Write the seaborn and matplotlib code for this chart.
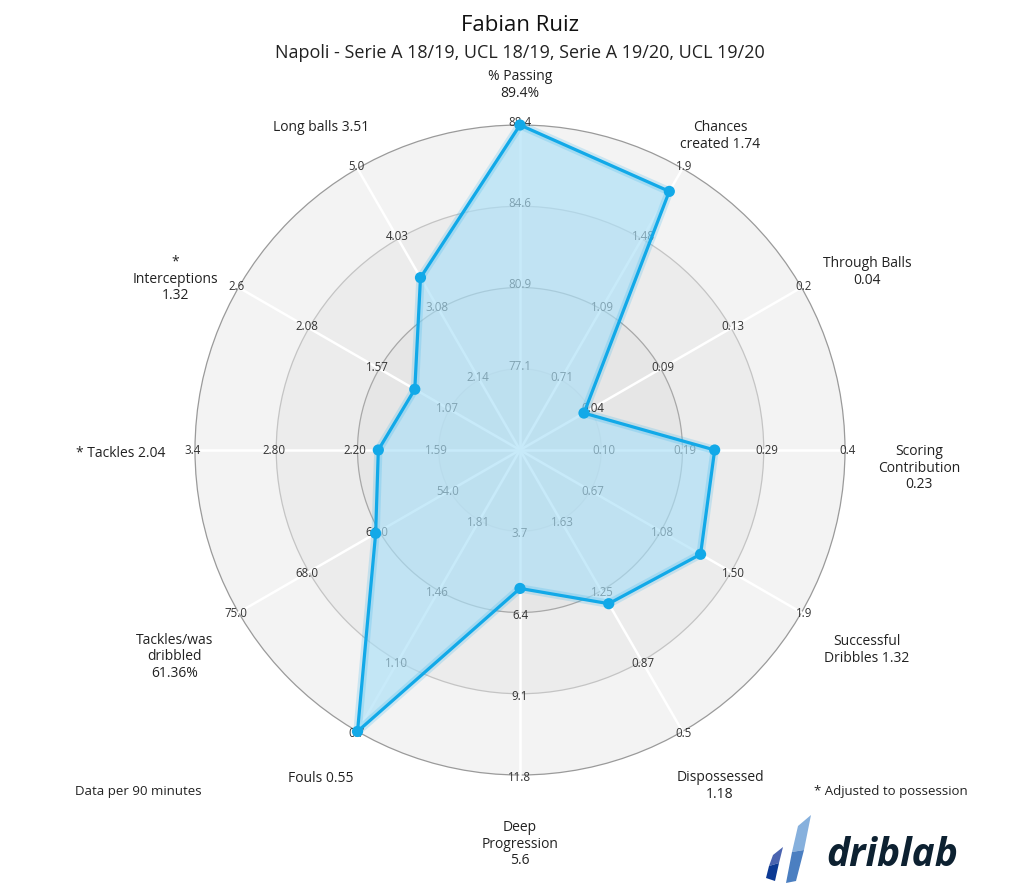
import numpy as np
import pandas as pd
import matplotlib
matplotlib.use("Agg")
import matplotlib.pyplot as plt
from matplotlib.patches import Circle, Polygon
import seaborn as sns

# Datos del radar (sentido horario desde arriba)
labels = ["% Passing\n89.4%", "Chances\ncreated 1.74", "Through Balls\n0.04",
          "Scoring\nContribution\n0.23", "Successful\nDribbles 1.32", "Dispossessed\n1.18",
          "Deep\nProgression\n5.6", "Fouls 0.55", "Tackles/was\ndribbled\n61.36%",
          "* Tackles 2.04", "*\nInterceptions\n1.32", "Long balls 3.51"]
values = [89.4, 1.74, 0.04, 0.23, 1.32, 1.18, 5.6, 0.55, 61.36, 2.04, 1.32, 3.51]

# valor en el centro y en el anillo exterior de cada eje
scale_min = [73.3, 0.325, 0.0, 0.0, 0.255, 2.01, 1.0, 2.165, 47.0, 0.985, 0.565, 1.195]
scale_max = [88.4, 1.865, 0.176, 0.384, 1.915, 0.49, 11.8, 0.745, 75.0, 3.405, 2.585, 4.975]

tick_labels = [
    ["77.1", "80.9", "84.6", "88.4"],
    ["0.71", "1.09", "1.48", "1.9"],
    ["0.04", "0.09", "0.13", "0.2"],
    ["0.10", "0.19", "0.29", "0.4"],
    ["0.67", "1.08", "1.50", "1.9"],
    ["1.63", "1.25", "0.87", "0.5"],
    ["3.7", "6.4", "9.1", "11.8"],
    ["1.81", "1.46", "1.10", "0.7"],
    ["54.0", "61.0", "68.0", "75.0"],
    ["1.59", "2.20", "2.80", "3.4"],
    ["1.07", "1.57", "2.08", "2.6"],
    ["2.14", "3.08", "4.03", "5.0"],
]

title = "Fabian Ruiz"
subtitle = "Napoli - Serie A 18/19, UCL 18/19, Serie A 19/20, UCL 19/20"

# posiciones de las etiquetas (pixeles de la imagen)
label_px = [(520, 85), (720, 136), (867, 272), (919, 468), (867, 650), (720, 786),
            (520, 844), (321, 779), (175, 657), (121, 453), (175, 279), (321, 127)]

LINE = "#12a9e8"
W, H = 1024, 888
CX, CY, R = 520, 450, 325


def px(x, y):
    return (x - CX) / R, (CY - y) / R


sns.set_theme(style="white")
plt.rcParams["font.family"] = ["Open Sans", "DejaVu Sans"]

fig = plt.figure(figsize=(W / 100, H / 100), dpi=100)
ax = fig.add_axes([0, 0, 1, 1])
ax.set_xlim(-CX / R, (W - CX) / R)
ax.set_ylim(-(H - CY) / R, CY / R)
ax.axis("off")

# fondo en bandas
band_colors = ["#f3f3f3", "#ececec", "#e6e6e6", "#e3e3e3"]
for k, col in enumerate(band_colors):
    ax.add_patch(Circle((0, 0), 1 - k * 0.25, facecolor=col, edgecolor="none", zorder=0))
ring_colors = ["#d6d6d6", "#a8a8a8", "#c4c4c4", "#9a9a9a"]
for k, col in enumerate(ring_colors):
    ax.add_patch(Circle((0, 0), (k + 1) * 0.25, facecolor="none", edgecolor=col,
                        lw=0.9, zorder=1))

n = len(values)
ang = np.arange(n) * 2 * np.pi / n
dx, dy = np.sin(ang), np.cos(ang)

# radios y etiquetas de escala
for i in range(n):
    ax.plot([0, dx[i]], [0, dy[i]], color="white", lw=1.8, zorder=2)
    for k, t in enumerate(tick_labels[i]):
        r = (k + 1) * 0.25 + 0.008
        ax.text(r * dx[i], r * dy[i], t, ha="center", va="center",
                fontsize=8.3, color="#333333", zorder=3)

# poligono del jugador
frac = (np.array(values) - np.array(scale_min)) / (np.array(scale_max) - np.array(scale_min))
frac = np.clip(frac, 0, 1)
df = pd.DataFrame({"x": frac * dx, "y": frac * dy})
closed = pd.concat([df, df.iloc[:1]], ignore_index=True)

ax.fill(df["x"], df["y"], facecolor="#aadff7", alpha=0.65, edgecolor="none", zorder=4)
ax.plot(closed["x"], closed["y"], color=LINE, lw=6, alpha=0.18, zorder=5)
sns.lineplot(data=closed, x="x", y="y", sort=False, estimator=None, color=LINE,
             lw=2.3, ax=ax, zorder=6)
sns.scatterplot(data=df, x="x", y="y", color=LINE, s=65, edgecolor="none", ax=ax, zorder=7)
ax.set_xlabel("")
ax.set_ylabel("")

# etiquetas de cada eje
for lab, (lx, ly) in zip(labels, label_px):
    x, y = px(lx, ly)
    ax.text(x, y, lab, ha="center", va="center", multialignment="center",
            fontsize=10, color="#222222", linespacing=1.15)

# titulos
ax.text(*px(520, 25), title, ha="center", va="center", fontsize=16, color="#111111")
ax.text(*px(520, 53), subtitle, ha="center", va="center", fontsize=13, color="#222222")

ax.text(*px(138, 792), "Data per 90 minutes", ha="center", va="center",
        fontsize=9.5, color="#222222")
ax.text(*px(891, 791), "* Adjusted to possession", ha="center", va="center",
        fontsize=9.5, color="#222222")

# logo driblab
stripes = [
    ([(798, 826), (811, 815), (804, 850), (792, 852)], "#86b0dd"),
    ([(792, 852), (804, 850), (796, 881), (786, 883)], "#4b7fc1"),
    ([(773, 855), (783, 847), (779, 863), (769, 866)], "#4a64b0"),
    ([(769, 866), (779, 863), (775, 881), (766, 878)], "#0c3a94"),
]
for pts, col in stripes:
    ax.add_patch(Polygon([px(*p) for p in pts], closed=True, facecolor=col,
                         edgecolor="none", zorder=8))
ax.text(*px(892, 856), "driblab", ha="center", va="center", fontsize=28,
        fontweight="bold", style="italic", color="#0d2131", zorder=8)

fig.savefig("out.png", dpi=100)
